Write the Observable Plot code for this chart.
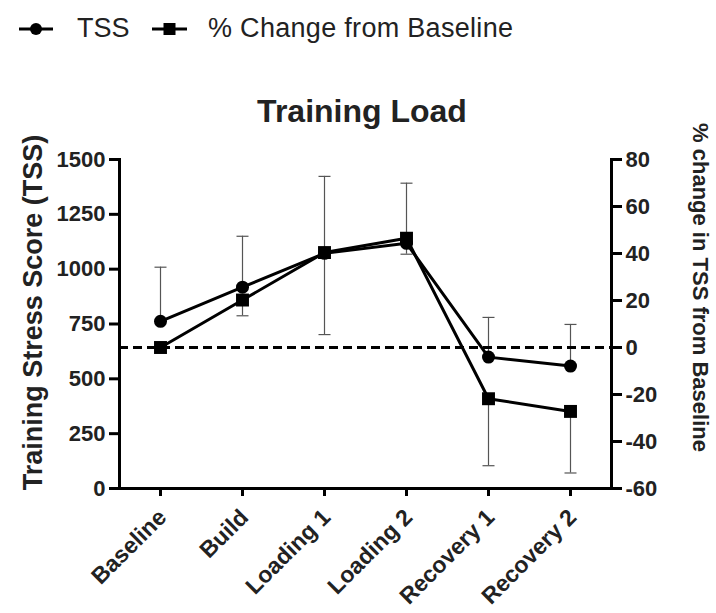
<!DOCTYPE html>
<html><head><meta charset="utf-8">
<script src="https://cdn.jsdelivr.net/npm/d3@7"></script>
<script src="https://cdn.jsdelivr.net/npm/@observablehq/plot@0.6"></script>
<style>
body{margin:0;background:#fff;font-family:"Liberation Sans",Arial,sans-serif;color:#222;}
#wrap{position:relative;width:716px;height:613px;overflow:hidden;background:#fff;}
.sw{position:absolute;}
.lt{position:absolute;font-size:27px;line-height:27px;white-space:nowrap;}
#title{position:absolute;left:0;width:724px;text-align:center;top:95px;font-weight:bold;font-size:32px;line-height:32px;}
#chart{position:absolute;left:0;top:130px;}
</style></head>
<body>
<div id="wrap">
  <svg class="sw" style="left:17px;top:21px" width="38" height="16"><line x1="2" x2="36" y1="8" y2="8" stroke="#000" stroke-width="3"/><circle cx="19" cy="8" r="6" fill="#000"/></svg>
  <span class="lt" style="left:77px;top:15px">TSS</span>
  <svg class="sw" style="left:150px;top:21px" width="40" height="16"><line x1="2" x2="37" y1="8" y2="8" stroke="#000" stroke-width="3"/><rect x="13.5" y="2" width="12" height="12" fill="#000"/></svg>
  <span class="lt" style="left:208px;top:15px;letter-spacing:0.3px">% Change from Baseline</span>
  <div id="title">Training Load</div>
  <div id="chart"></div>
</div>
<script>
const categories = ["Baseline", "Build", "Loading 1", "Loading 2", "Recovery 1", "Recovery 2"];
const tss = [762, 918, 1072, 1118, 599, 558];
const tssSD = [247, 232, 351, 274, 181, 190];
const pctChange = [0, 20.2, 40.4, 46.5, -21.8, -27.2];
const pctSD = [0, 6.7, 34.9, 6.8, 28.5, 26.2];
const leftTicks = [0, 250, 500, 750, 1000, 1250, 1500];
const rightTicks = [-60, -40, -20, 0, 20, 40, 60, 80];

// map right-axis (% change) values into the left-axis (TSS) scale
const pMin = -60, pMax = 80, tMax = 1500;
const toTss = p => (p - pMin) * tMax / (pMax - pMin);
const fromTss = t => t * (pMax - pMin) / tMax + pMin;

const rows = categories.map((c, i) => ({
  cat: c, tss: tss[i], tssHi: tss[i] + tssSD[i],
  pct: toTss(pctChange[i]), pctLo: toTss(pctChange[i] - pctSD[i]), sd: pctSD[i]
}));
const pctRows = rows.filter(d => d.sd > 0);

// horizontal-bar symbol for error-bar caps
const capSymbol = {
  draw(context, size) {
    const r = Math.sqrt(size / Math.PI);
    context.moveTo(-r, 0);
    context.lineTo(r, 0);
  }
};

const plot = Plot.plot({
  width: 716, height: 483,
  marginLeft: 119, marginRight: 105, marginTop: 29, marginBottom: 125,
  style: {fontFamily: "'Liberation Sans', Arial, sans-serif", color: "#222", background: "#fff", overflow: "visible"},
  x: {type: "point", domain: categories, padding: 0.5},
  y: {domain: [0, 1500]},
  marks: [
    // axis lines
    Plot.frame({anchor: "left", stroke: "#000", strokeWidth: 3}),
    Plot.frame({anchor: "right", stroke: "#000", strokeWidth: 3}),
    Plot.ruleY([0], {stroke: "#000", strokeWidth: 3}),
    // error bars
    Plot.ruleX(rows, {x: "cat", y1: "tss", y2: "tssHi", stroke: "#555", strokeWidth: 1.2}),
    Plot.dot(rows, {x: "cat", y: "tssHi", symbol: capSymbol, r: 6, fill: "none", stroke: "#555", strokeWidth: 1.2}),
    Plot.ruleX(pctRows, {x: "cat", y1: "pct", y2: "pctLo", stroke: "#555", strokeWidth: 1.2}),
    Plot.dot(pctRows, {x: "cat", y: "pctLo", symbol: capSymbol, r: 6, fill: "none", stroke: "#555", strokeWidth: 1.2}),
    // baseline dashed
    Plot.ruleY([toTss(0)], {stroke: "#000", strokeWidth: 3, strokeDasharray: "9,5"}),
    // series
    Plot.line(rows, {x: "cat", y: "tss", stroke: "#000", strokeWidth: 3}),
    Plot.line(rows, {x: "cat", y: "pct", stroke: "#000", strokeWidth: 3}),
    Plot.dot(rows, {x: "cat", y: "tss", r: 6.5, fill: "#000", symbol: "circle"}),
    Plot.dot(rows, {x: "cat", y: "pct", r: 7.3, fill: "#000", symbol: "square"}),
    // axes
    Plot.axisY(leftTicks, {anchor: "left", tickSize: 10, tickPadding: 4, strokeWidth: 3, stroke: "#000",
      fontSize: 22, fontWeight: "bold", label: null, tickFormat: d => String(d)}),
    Plot.axisY(rightTicks.map(toTss), {anchor: "right", tickSize: 10, tickPadding: 4, strokeWidth: 3, stroke: "#000",
      fontSize: 22, fontWeight: "bold", label: null, tickFormat: d => String(Math.round(fromTss(d)))}),
    Plot.axisX({anchor: "bottom", tickSize: 8, strokeWidth: 3, stroke: "#000", fill: "none", label: null}),
    Plot.axisX({anchor: "bottom", tickSize: 8, stroke: "none", tickRotate: -45, dx: 2, dy: 13,
      fontSize: 23, fontWeight: "bold", label: null, tickPadding: 4}),
    // axis titles
    Plot.text(["Training Stress Score (TSS)"], {frameAnchor: "left", dx: -78, dy: -11.5, rotate: -90,
      textAnchor: "middle", lineAnchor: "bottom", fontSize: 27, fontWeight: "bold"}),
    Plot.text(["% change in TSS from Baseline"], {frameAnchor: "right", dx: 81, dy: -36.5, rotate: 90,
      textAnchor: "middle", lineAnchor: "bottom", fontSize: 22, fontWeight: "bold"})
  ]
});
document.getElementById("chart").appendChild(plot);
</script>
</body></html>
